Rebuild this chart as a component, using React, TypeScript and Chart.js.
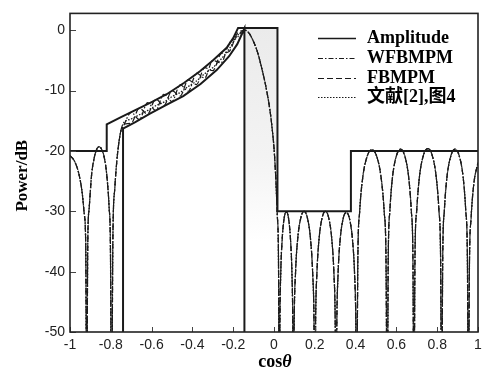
import React, { useEffect, useRef } from "react";
import { Chart, registerables } from "chart.js";

Chart.register(...registerables);

// ---- axis ticks / labels ----
const xTickValues = [-1, -0.8, -0.6, -0.4, -0.2, 0, 0.2, 0.4, 0.6, 0.8, 1];
const yTickValues = [-50, -40, -30, -20, -10, 0];
const legendLabels = ["Amplitude", "WFBMPM", "FBMPM", "文献[2],图4"];
const xTitle = "cos";
const xTitleSymbol = "θ";
const yTitle = "Power/dB";

// ---- mask (Amplitude) ----
const maskUpperX = [-1, -0.82, -0.82, -0.75, -0.69, -0.6, -0.526, -0.44, -0.363, -0.3, -0.232, -0.2, -0.176, 0.017, 0.017, 0.377, 0.377, 1];
const maskUpperDb = [-20, -20, -15.6, -14.4, -13.4, -11.9, -10.6, -8.7, -6.8, -5.0, -2.9, -1.3, 0.4, 0.4, -30, -30, -20, -20];
const maskLowerX = [-0.74, -0.74, -0.68, -0.608, -0.53, -0.445, -0.36, -0.281, -0.22, -0.18, -0.145, -0.145];
const maskLowerDb = [-60, -16.3, -15.2, -13.8, -12.4, -10.9, -8.9, -6.6, -4.3, -2.3, 0.3, -60];
const shadeX = [-0.145, 0.017];
const shadeDb = [0.4, 0.4];

// ---- patterns: shared side-lobe region ----
const leftLobeX = [-1, -0.985, -0.97, -0.955, -0.94, -0.93, -0.923, -0.918, -0.913, -0.906, -0.894, -0.881, -0.869, -0.857, -0.845, -0.832, -0.82, -0.808, -0.802, -0.796, -0.79, -0.78, -0.77, -0.76, -0.75];
const leftLobeDb = [-20.8, -21.3, -22.3, -24, -27, -30.5, -35.5, -65, -35.3, -29.5, -23.9, -21.1, -19.7, -19.3, -19.7, -21.1, -23.9, -29.5, -35.3, -65, -35, -26, -21.5, -18.5, -16.6];

// ---- main lobe (shaped region), per method ----
const mainX = [-0.74, -0.7, -0.66, -0.62, -0.58, -0.54, -0.5, -0.46, -0.42, -0.38, -0.34, -0.3, -0.26, -0.22, -0.18, -0.16, -0.14];
const wfbmpmMain = [-16.0, -13.6, -14.8, -12.0, -13.3, -10.6, -11.8, -9.0, -10.1, -7.1, -7.9, -5.0, -5.4, -2.2, -1.2, -0.3, 0];
const fbmpmMain = [-15.6, -15.4, -12.9, -13.9, -11.4, -12.5, -10.0, -10.9, -8.2, -9.0, -6.2, -6.7, -3.9, -3.5, -0.5, -0.1, 0];
const refMain = [-15.5, -14.7, -14.0, -13.3, -12.5, -11.9, -11.0, -10.3, -9.3, -8.4, -7.2, -6.2, -4.8, -3.1, -0.9, -0.3, 0];

// ---- main lobe fall-off, shared ----
const fallX = [-0.12, -0.1, -0.08, -0.06, -0.04, -0.02, -0.01, 0, 0.008, 0.016, 0.022, 0.026];
const fallDb = [-0.6, -1.9, -3.7, -6.3, -9.3, -13.2, -16.0, -19.5, -24, -30.5, -38, -65];

// ---- right side lobes, shared ----
const rightLobeX = [
  0.029, 0.033, 0.04, 0.05, 0.0605, 0.071, 0.081, 0.088, 0.092, 0.095,
  0.099, 0.1055, 0.116, 0.132, 0.1475, 0.163, 0.179, 0.1895, 0.196, 0.2,
  0.204, 0.2104, 0.2208, 0.2364, 0.252, 0.2676, 0.2832, 0.2936, 0.3, 0.304,
  0.308, 0.314, 0.324, 0.339, 0.3545, 0.37, 0.385, 0.395, 0.401, 0.405,
  0.411, 0.42, 0.435, 0.4575, 0.48, 0.5025, 0.525, 0.54, 0.549, 0.555,
  0.56, 0.568, 0.581, 0.601, 0.6205, 0.64, 0.66, 0.673, 0.681, 0.686,
  0.691, 0.6996, 0.7132, 0.7336, 0.754, 0.7744, 0.7948, 0.8084, 0.8166, 0.822,
  0.827, 0.835, 0.848, 0.868, 0.8875, 0.907, 0.927, 0.94, 0.948, 0.953,
  0.958, 0.966, 0.979, 1.0,
];
const rightLobeDb = [
  -48.1, -40.3, -34.7, -31.1, -30.1, -31.1, -34.7, -40.3, -48.1, -65,
  -48, -40.2, -34.6, -31, -30, -31, -34.6, -40.2, -48, -65,
  -48, -40.2, -34.6, -31, -30, -31, -34.6, -40.2, -48, -65,
  -48.2, -40.4, -34.8, -31.2, -30.2, -31.2, -34.8, -40.4, -48.2, -65,
  -37.8, -30, -24.4, -20.8, -19.8, -20.8, -24.4, -30, -37.8, -65,
  -37.7, -29.9, -24.3, -20.7, -19.7, -20.7, -24.3, -29.9, -37.7, -65,
  -37.6, -29.8, -24.2, -20.6, -19.6, -20.6, -24.2, -29.8, -37.6, -65,
  -37.7, -29.9, -24.3, -20.7, -19.7, -20.7, -24.3, -29.9, -37.7, -65,
  -39, -31.2, -25.6, -21.9,
];

const pts = (xs: number[], ys: number[]) => xs.map((x, i) => ({ x, y: ys[i] }));
const pattern = (main: number[]) => [
  ...pts(leftLobeX, leftLobeDb),
  ...pts(mainX, main),
  ...pts(fallX, fallDb),
  ...pts(rightLobeX, rightLobeDb),
];

const INK = "#1a1a1a";
const SERIF = '"Liberation Serif", "Times New Roman", "Noto Sans CJK SC", serif';
const dashes: number[][] = [[], [5, 2, 1.5, 2], [6, 3], [1.5, 1.5]];

const decor = {
  id: "decor",
  afterDraw(chart: any) {
    const { ctx, chartArea: a, scales } = chart;
    ctx.save();
    // inward ticks
    ctx.strokeStyle = "#444";
    ctx.lineWidth = 1;
    ctx.setLineDash([]);
    xTickValues.forEach((v) => {
      const px = Math.round(scales.x.getPixelForValue(v)) + 0.5;
      ctx.beginPath();
      ctx.moveTo(px, a.bottom);
      ctx.lineTo(px, a.bottom - 5);
      ctx.stroke();
    });
    yTickValues.forEach((v) => {
      const py = Math.round(scales.y.getPixelForValue(v)) + 0.5;
      ctx.beginPath();
      ctx.moveTo(a.left, py);
      ctx.lineTo(a.left + 6, py);
      ctx.stroke();
    });
    // frame
    ctx.strokeStyle = "#222";
    ctx.lineWidth = 1.6;
    ctx.strokeRect(a.left, a.top, a.right - a.left, a.bottom - a.top);

    // legend
    const rowsY = [38, 58, 78, 97];
    ctx.fillStyle = "#000";
    ctx.font = "bold 18px " + SERIF;
    ctx.textBaseline = "middle";
    ctx.textAlign = "left";
    legendLabels.forEach((label, i) => {
      const y = rowsY[i];
      ctx.strokeStyle = INK;
      ctx.lineWidth = i === 0 ? 1.6 : 1.2;
      ctx.setLineDash(dashes[i]);
      ctx.beginPath();
      ctx.moveTo(318, y + 0.5);
      ctx.lineTo(356, y + 0.5);
      ctx.stroke();
      ctx.setLineDash([]);
      ctx.fillText(label, 367, y);
    });

    // axis titles
    ctx.textBaseline = "alphabetic";
    ctx.font = "bold 18px " + SERIF;
    const w1 = ctx.measureText(xTitle).width;
    ctx.font = "bold italic 18px " + SERIF;
    const w2 = ctx.measureText(xTitleSymbol).width;
    const cx = (a.left + a.right) / 2 + 1;
    const sx = cx - (w1 + w2) / 2;
    ctx.font = "bold 18px " + SERIF;
    ctx.fillText(xTitle, sx, 367);
    ctx.font = "bold italic 18px " + SERIF;
    ctx.fillText(xTitleSymbol, sx + w1, 367);

    ctx.save();
    ctx.translate(27, (a.top + a.bottom) / 2 + 3);
    ctx.rotate(-Math.PI / 2);
    ctx.textAlign = "center";
    ctx.font = "bold 17px " + SERIF;
    ctx.fillText(yTitle, 0, 0);
    ctx.restore();

    ctx.restore();
  },
};

export default function App() {
  const ref = useRef<HTMLCanvasElement | null>(null);
  useEffect(() => {
    const canvas = ref.current;
    if (!canvas) return;
    const lineBase = {
      pointRadius: 0,
      fill: false,
      borderColor: INK,
    };
    const chart = new Chart(canvas, {
      type: "line",
      data: {
        datasets: [
          {
            ...lineBase,
            label: "shade",
            data: pts(shadeX, shadeDb),
            borderWidth: 0,
            borderColor: "rgba(0,0,0,0)",
            backgroundColor: (c: any) => {
              const area = c.chart.chartArea;
              if (!area) return "#f0f0f0";
              const yS = c.chart.scales.y;
              const g = c.chart.ctx.createLinearGradient(0, yS.getPixelForValue(0.4), 0, yS.getPixelForValue(-35));
              g.addColorStop(0, "#ebebeb");
              g.addColorStop(0.6, "#f3f3f3");
              g.addColorStop(1, "#ffffff");
              return g;
            },
            fill: { value: -35 },
            order: 10,
          },
          {
            ...lineBase,
            label: legendLabels[0],
            data: pts(maskUpperX, maskUpperDb),
            borderWidth: 2,
            tension: 0,
            order: 1,
          },
          {
            ...lineBase,
            label: legendLabels[0] + " lower",
            data: pts(maskLowerX, maskLowerDb),
            borderWidth: 2,
            tension: 0,
            order: 1,
          },
          {
            ...lineBase,
            label: legendLabels[1],
            data: pattern(wfbmpmMain),
            borderWidth: 1.2,
            borderDash: dashes[1],
            cubicInterpolationMode: "monotone",
            order: 2,
          },
          {
            ...lineBase,
            label: legendLabels[2],
            data: pattern(fbmpmMain),
            borderWidth: 1.2,
            borderDash: dashes[2],
            cubicInterpolationMode: "monotone",
            order: 2,
          },
          {
            ...lineBase,
            label: legendLabels[3],
            data: pattern(refMain),
            borderWidth: 1.3,
            borderDash: dashes[3],
            cubicInterpolationMode: "monotone",
            order: 2,
          },
        ],
      },
      options: {
        responsive: false,
        animation: false,
        devicePixelRatio: 1,
        layout: { padding: { top: 12, right: 11, left: 0, bottom: 0 } },
        plugins: { legend: { display: false }, tooltip: { enabled: false } },
        scales: {
          x: {
            type: "linear",
            min: -1,
            max: 1,
            grid: { display: false, drawTicks: false },
            border: { display: false },
            afterBuildTicks: (s: any) => {
              s.ticks = xTickValues.map((value) => ({ value }));
            },
            afterFit: (s: any) => {
              s.height = 37;
            },
            ticks: {
              padding: 5,
              color: "#222",
              maxRotation: 0,
              autoSkip: false,
              font: { family: '"Liberation Sans", Arial, sans-serif', size: 14 },
              callback: (v: any) => String(Math.round(Number(v) * 10) / 10),
            },
          },
          y: {
            type: "linear",
            min: -50,
            max: 2.8,
            grid: { display: false, drawTicks: false },
            border: { display: false },
            afterBuildTicks: (s: any) => {
              s.ticks = yTickValues.map((value) => ({ value }));
            },
            afterFit: (s: any) => {
              s.width = 70;
            },
            ticks: {
              padding: 5,
              color: "#222",
              autoSkip: false,
              font: { family: '"Liberation Sans", Arial, sans-serif', size: 14 },
              callback: (v: any) => String(Math.round(Number(v))),
            },
          },
        },
      },
      plugins: [decor],
    } as any);
    return () => chart.destroy();
  }, []);

  return (
    <div style={{ position: "fixed", left: 0, top: 0, width: 489, height: 369, background: "#fff" }}>
      <canvas ref={ref} width={489} height={369} style={{ display: "block", width: 489, height: 369 }} />
    </div>
  );
}
